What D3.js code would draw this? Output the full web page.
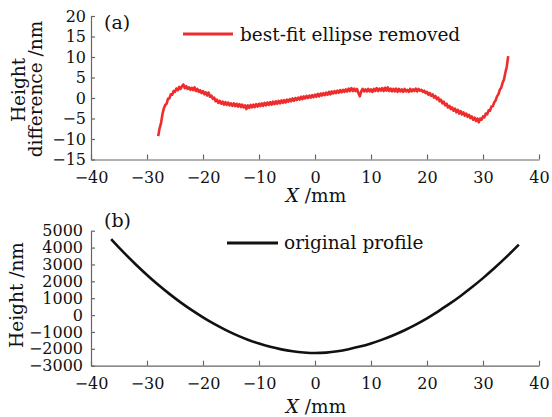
<!DOCTYPE html>
<html>
<head>
<meta charset="utf-8">
<script src="https://cdn.jsdelivr.net/npm/d3@7"></script>
<style>
  html, body { margin: 0; padding: 0; background: #fff; }
  svg { display: block; }
  text { font-family: "DejaVu Serif", serif; fill: #111; }
</style>
</head>
<body>
<svg id="chart" width="552" height="417"></svg>
<script>
// ---------- data ----------
const xTicks = [-40, -30, -20, -10, 0, 10, 20, 30, 40];
const yTicksA = [20, 15, 10, 5, 0, -5, -10, -15];
const yTicksB = [5000, 4000, 3000, 2000, 1000, 0, -1000, -2000, -3000];

// (a) residual after best-fit ellipse removed (nm), x from -28 mm in steps of 0.25 mm
const residualX0 = -28, residualStep = 0.25;
const residualY = [
  -9.3, -7.4, -6.2, -4.0, -2.6, -1.7, -1.4, -0.2, -0.1, 0.9,
  0.8, 1.7, 1.5, 2.3, 1.9, 2.7, 2.2, 2.9, 3.3, 2.4,
  2.9, 2.2, 2.6, 2.0, 2.5, 1.9, 2.6, 1.7, 2.2, 1.5,
  1.9, 1.2, 1.7, 0.9, 1.4, 0.6, 1.3, 0.3, 0.6, -0.2,
  0.1, -0.8, -0.4, -1.2, -0.7, -1.4, -0.9, -1.6, -1.0, -1.7,
  -1.1, -1.8, -1.3, -1.9, -1.3, -2.0, -1.4, -2.1, -1.5, -2.2,
  -1.6, -2.3, -1.8, -2.7, -1.8, -2.4, -1.7, -2.3, -1.6, -2.2,
  -1.5, -2.1, -1.4, -2.0, -1.3, -1.9, -1.2, -1.8, -1.1, -1.7,
  -1.0, -1.6, -0.9, -1.5, -0.8, -1.4, -0.7, -1.3, -0.6, -1.2,
  -0.5, -1.1, -0.4, -0.9, -0.3, -0.8, -0.1, -0.7, 0.0, -0.5,
  0.1, -0.4, 0.3, -0.3, 0.4, -0.1, 0.5, 0.0, 0.6, 0.1,
  0.7, 0.2, 0.8, 0.3, 1.0, 0.4, 1.1, 0.6, 1.2, 0.7,
  1.3, 0.8, 1.5, 0.9, 1.6, 1.1, 1.7, 1.2, 1.8, 1.3,
  1.9, 1.4, 2.0, 1.5, 2.1, 1.6, 2.3, 1.7, 2.4, 1.7,
  2.3, 1.7, 2.2, 1.2, 0.4, 1.6, 2.2, 1.6, 2.1, 1.6,
  2.2, 1.6, 2.1, 1.5, 2.2, 1.7, 2.4, 1.7, 2.3, 1.8,
  2.4, 1.7, 2.5, 1.8, 2.6, 1.7, 2.3, 1.6, 2.2, 1.6,
  2.3, 1.5, 2.2, 1.6, 2.1, 1.5, 2.2, 1.6, 2.0, 1.5,
  2.2, 1.6, 2.1, 1.7, 2.3, 1.6, 2.2, 1.8, 2.0, 1.5,
  1.8, 1.2, 1.5, 0.8, 1.2, 0.5, 0.9, 0.1, 0.5, -0.3,
  0.1, -0.8, -0.4, -1.3, -0.9, -1.8, -1.4, -2.3, -1.9, -2.7,
  -2.3, -3.1, -2.6, -3.5, -2.9, -3.8, -3.2, -4.0, -3.5, -4.3,
  -3.8, -4.6, -4.1, -4.9, -4.5, -5.3, -4.8, -5.6, -5.0, -5.9,
  -5.0, -5.3, -4.5, -4.7, -3.8, -4.0, -3.0, -3.1, -2.1, -2.0,
  -1.1, -0.6, 0.4, 0.9, 2.0, 2.5, 3.7, 4.5, 6.2, 7.7,
  10.2
];

// (b) original profile (nm)
const profileX = [-36.4, -36, -34, -32, -30, -28, -26, -24, -22, -20, -18, -16, -14, -12, -10, -8, -6, -4, -2, 0, 2, 4, 6, 8, 10, 12, 14, 16, 18, 20, 22, 24, 26, 28, 30, 32, 34, 36, 36.4];
const profileY = [4500, 4355, 3657, 2999, 2379, 1798, 1256, 753, 289, -136, -526, -876, -1187, -1458, -1689, -1881, -2033, -2145, -2217, -2250, -2225, -2145, -2023, -1869, -1680, -1455, -1195, -899, -567, -200, 223, 661, 1135, 1645, 2190, 2771, 3387, 4039, 4175];

const labelA = "(a)", labelB = "(b)";
const legendA = "best-fit ellipse removed";
const legendB = "original profile";

// ---------- drawing ----------
const svg = d3.select("#chart");
const axisColor = "#666";
const tickFont = 16;
const titleFont = 18.5;

const x = d3.scaleLinear().domain([-40, 40]).range([91, 539]);

function styleAxis(g) {
  g.select(".domain").attr("stroke", axisColor).attr("stroke-width", 1.2);
  g.selectAll(".tick line").attr("stroke", axisColor).attr("stroke-width", 1.2);
  g.selectAll(".tick text").style("font-family", "'DejaVu Serif', serif").style("font-size", tickFont + "px").attr("fill", "#111");
}

// ----- panel (a) -----
const yA = d3.scaleLinear().domain([-15, 20]).range([159.5, 16]);
svg.append("g").attr("transform", `translate(0,${yA(-15)})`)
  .call(d3.axisBottom(x).tickValues(xTicks).tickSizeInner(-5).tickSizeOuter(0).tickPadding(12).tickFormat(d3.format("d")))
  .call(styleAxis);
svg.append("g").attr("transform", `translate(${x(-40)},0)`)
  .call(d3.axisLeft(yA).tickValues(yTicksA).tickSizeInner(-4).tickSizeOuter(0).tickPadding(5).tickFormat(d3.format("d")))
  .call(styleAxis);

const residual = residualY.map((v, i) => [residualX0 + i * residualStep, v]);
svg.append("path").datum(residual)
  .attr("fill", "none").attr("stroke", "#ee2c2c").attr("stroke-width", 2.6).attr("stroke-linejoin", "round")
  .attr("d", d3.line().x(d => x(d[0])).y(d => yA(d[1])));

svg.append("text").attr("x", 104).attr("y", 29).style("font-size", "19px").text(labelA);
svg.append("line").attr("x1", 183).attr("x2", 233).attr("y1", 34).attr("y2", 34)
  .attr("stroke", "#ee2c2c").attr("stroke-width", 3);
svg.append("text").attr("x", 240).attr("y", 41).style("font-size", titleFont + "px").text(legendA);

svg.append("text").attr("transform", "translate(25,90) rotate(-90)").attr("text-anchor", "middle")
  .style("font-size", titleFont + "px").text("Height");
svg.append("text").attr("transform", "translate(42,89) rotate(-90)").attr("text-anchor", "middle")
  .style("font-size", titleFont + "px").text("difference /nm");

const xtA = svg.append("text").attr("x", 316).attr("y", 202).attr("text-anchor", "middle").style("font-size", titleFont + "px");
xtA.append("tspan").style("font-style", "italic").text("X");
xtA.append("tspan").text(" /mm");

// ----- panel (b) -----
const yB = d3.scaleLinear().domain([-3000, 5000]).range([365.7, 230.7]);
svg.append("g").attr("transform", `translate(0,${yB(-3000)})`)
  .call(d3.axisBottom(x).tickValues(xTicks).tickSizeInner(-5).tickSizeOuter(0).tickPadding(12).tickFormat(d3.format("d")))
  .call(styleAxis);
svg.append("g").attr("transform", `translate(${x(-40)},0)`)
  .call(d3.axisLeft(yB).tickValues(yTicksB).tickSizeInner(-4).tickSizeOuter(0).tickPadding(8).tickFormat(d3.format("d")))
  .call(styleAxis);

const profile = profileX.map((v, i) => [v, profileY[i]]);
svg.append("path").datum(profile)
  .attr("fill", "none").attr("stroke", "#111").attr("stroke-width", 2.6)
  .attr("d", d3.line().curve(d3.curveMonotoneX).x(d => x(d[0])).y(d => yB(d[1])));

svg.append("text").attr("x", 104).attr("y", 227).style("font-size", "19px").text(labelB);
svg.append("line").attr("x1", 227).attr("x2", 278).attr("y1", 243).attr("y2", 243)
  .attr("stroke", "#111").attr("stroke-width", 3);
svg.append("text").attr("x", 284).attr("y", 249).style("font-size", titleFont + "px").text(legendB);

svg.append("text").attr("transform", "translate(23,295) rotate(-90)").attr("text-anchor", "middle")
  .style("font-size", titleFont + "px").text("Height /nm");

const xtB = svg.append("text").attr("x", 316).attr("y", 413).attr("text-anchor", "middle").style("font-size", titleFont + "px");
xtB.append("tspan").style("font-style", "italic").text("X");
xtB.append("tspan").text(" /mm");
</script>
</body>
</html>
